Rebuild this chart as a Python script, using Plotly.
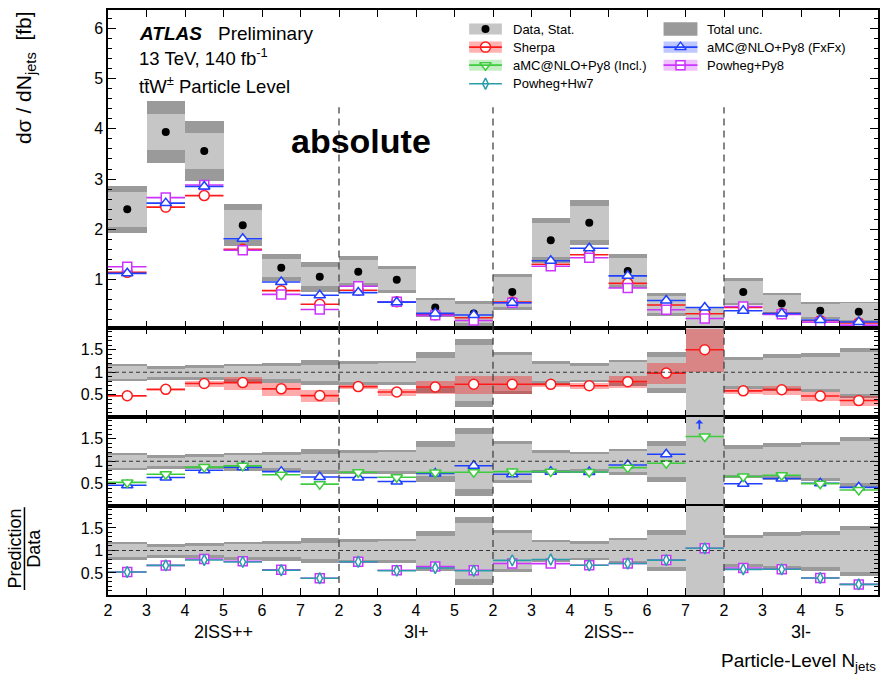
import numpy as np
import plotly.graph_objects as go
from plotly.subplots import make_subplots

# ---------------------------------------------------------------- data
bin_labels = ["2", "3", "4", "5", "6", "7",
              "2", "3", "4", "5",
              "2", "3", "4", "5", "6", "7",
              "2", "3", "4", "5"]
regions = ["2lSS++", "3l+", "2lSS--", "3l-"]
region_nbins = [6, 4, 6, 4]

# measured cross section per bin [fb]
data = [2.40, 3.94, 3.56, 2.08, 1.23, 1.05,
        1.15, 0.99, 0.44, 0.32,
        0.75, 1.78, 2.13, 1.165, 0.50, 0.21,
        0.75, 0.52, 0.375, 0.355]
# relative statistical / total uncertainties of the data
stat_rel = [0.145, 0.09, 0.10, 0.145, 0.145, 0.18,
            0.20, 0.21, 0.33, 0.62,
            0.40, 0.19, 0.16, 0.23, 0.35, 1.05,
            0.29, 0.33, 0.36, 0.47]
tot_rel = [0.195, 0.155, 0.17, 0.20, 0.22, 0.28,
           0.27, 0.27, 0.45, 0.76,
           0.47, 0.25, 0.21, 0.29, 0.46, 1.12,
           0.36, 0.41, 0.44, 0.56]

# predictions [fb]
sherpa = [1.14, 2.44, 2.67, 1.60, 0.775, 0.504,
          0.782, 0.554, 0.295, 0.234,
          0.548, 1.30, 1.49, 0.92, 0.49, 0.315,
          0.439, 0.317, 0.176, 0.131]
sherpa_rel = [0.02, 0.03, 0.09, 0.19, 0.24, 0.29,
              0.06, 0.12, 0.21, 0.27,
              0.27, 0.07, 0.10, 0.17, 0.24, 0.32,
              0.09, 0.16, 0.23, 0.30]
amc_fxfx = [1.12, 2.52, 2.85, 1.81, 0.947, 0.683,
            0.736, 0.545, 0.321, 0.288,
            0.533, 1.37, 1.62, 1.07, 0.578, 0.44,
            0.375, 0.32, 0.191, 0.149]
amc_incl = [1.27, 2.80, 3.10, 1.87, 0.861, 0.515,
            0.868, 0.639, 0.33, 0.242,
            0.578, 1.37, 1.62, 1.00, 0.478, 0.326,
            0.495, 0.359, 0.188, 0.128]
powheg_py8 = [1.25, 2.63, 2.88, 1.58, 0.70, 0.40,
              0.862, 0.554, 0.282, 0.179,
              0.533, 1.26, 1.43, 0.827, 0.393, 0.22,
              0.458, 0.302, 0.146, 0.087]
powheg_hw7 = [1.25, 2.63, 2.81, 1.55, 0.689, 0.40,
              0.862, 0.545, 0.268, 0.176,
              0.585, 1.42, 1.43, 0.827, 0.393, 0.22,
              0.435, 0.302, 0.146, 0.087]

# ---------------------------------------------------------------- style
FONT = "Liberation Sans, Arial, sans-serif"
C_STAT = "#c6c6c6"
C_TOT = "#9a9a9a"
C_SHERPA = "#ff1a1a"
C_FXFX = "#2040ff"
C_INCL = "#3ecb3e"
C_PY8 = "#cc33ff"
C_HW7 = "#2a9caa"
RATIO_MAX = 1.995

data_a = np.array(data)
nb = len(data)
centers = np.arange(nb) + 0.5

fig = make_subplots(rows=4, cols=1, shared_xaxes=True, vertical_spacing=0,
                    row_heights=[317.5, 89.2, 89.0, 89.3])


def add_band(row, vals, rel, color):
    v = np.asarray(vals, dtype=float)
    r = np.asarray(rel, dtype=float)
    fig.add_trace(go.Bar(x=centers, y=2 * v * r, base=v * (1 - r), width=1.0,
                         marker=dict(color=color, line=dict(width=0)),
                         showlegend=False, hoverinfo="skip"), row=row, col=1)


def add_pred(row, vals, color, symbol, size):
    xs, ys = [], []
    for i, v in enumerate(vals):
        xs += [i, i + 1, None]
        ys += [v, v, None]
    fig.add_trace(go.Scatter(x=xs, y=ys, mode="lines",
                             line=dict(color=color, width=1.6),
                             showlegend=False, hoverinfo="skip"), row=row, col=1)
    fig.add_trace(go.Scatter(x=centers, y=vals, mode="markers",
                             marker=dict(symbol=symbol, size=size, color="white",
                                         line=dict(color=color, width=1.5)),
                             showlegend=False), row=row, col=1)


# ---- top panel: absolute cross sections
add_band(1, data, tot_rel, C_TOT)
add_band(1, data, stat_rel, C_STAT)
fig.add_trace(go.Scatter(x=centers, y=data, mode="markers",
                         marker=dict(symbol="circle", size=8, color="black"),
                         showlegend=False), row=1, col=1)
add_pred(1, sherpa, C_SHERPA, "circle", 10)
add_pred(1, powheg_py8, C_PY8, "square", 9)
add_pred(1, amc_fxfx, C_FXFX, "triangle-up", 10)

# ---- ratio panels
ones = np.ones(nb)
ratio_panels = [
    (2, [(sherpa, C_SHERPA, "circle", 10, sherpa_rel)]),
    (3, [(amc_fxfx, C_FXFX, "triangle-up", 10, None),
         (amc_incl, C_INCL, "triangle-down", 10, None)]),
    (4, [(powheg_py8, C_PY8, "square", 9, None),
         (powheg_hw7, C_HW7, "diamond-tall", 8, None)]),
]
for row, preds in ratio_panels:
    add_band(row, ones, tot_rel, C_TOT)
    add_band(row, ones, stat_rel, C_STAT)
    for vals, color, sym, size, rel in preds:
        ratio = np.array(vals) / data_a
        if rel is not None:
            r = np.asarray(rel)
            fig.add_trace(go.Bar(x=centers, y=2 * ratio * r, base=ratio * (1 - r),
                                 width=1.0, marker=dict(color="rgba(255,0,0,0.33)",
                                                        line=dict(width=0)),
                                 showlegend=False, hoverinfo="skip"), row=row, col=1)
    for vals, color, sym, size, rel in preds:
        ratio = np.array(vals) / data_a
        add_pred(row, ratio, color, sym, size)
        # arrows for points above the visible ratio range
        for i, rv in enumerate(ratio):
            if rv > RATIO_MAX:
                xa = centers[i] - 0.14
                fig.add_annotation(x=xa, y=1.93, ax=xa, ay=1.68,
                                   xref=f"x{row}", yref=f"y{row}",
                                   axref=f"x{row}", ayref=f"y{row}",
                                   text="", showarrow=True, arrowhead=1,
                                   arrowsize=0.8, arrowwidth=1.6, arrowcolor=color)

# ---- dashed lines: unity in ratio panels, region separators
for row in (2, 3, 4):
    fig.add_shape(type="line", x0=0, x1=nb, y0=1, y1=1, xref=f"x{row}", yref=f"y{row}",
                  line=dict(color="#333333", width=1.1, dash="4px,3px"), layer="above")
bounds = np.cumsum(region_nbins)[:-1]
for b in bounds:
    fig.add_shape(type="line", x0=b, x1=b, y0=0, y1=4.43, xref="x", yref="y",
                  line=dict(color="#444444", width=1.3, dash="7px,5px"), layer="above")
    for row in (2, 3, 4):
        fig.add_shape(type="line", x0=b, x1=b, y0=0, y1=1, xref=f"x{row}",
                      yref=f"y{row} domain",
                      line=dict(color="#444444", width=1.3, dash="7px,5px"), layer="above")

# ---- legend (drawn inside the top panel)
leg_sw = [(9.38, 10.23), (14.43, 15.31)]
leg_tx = [10.46, 15.51]
leg_y = [5.99, 5.63, 5.27, 4.90]
legend_items = [
    ("Data, Stat.", 0, 0, C_STAT, None, "circle", 8, 0.11),
    ("Total unc.", 1, 0, C_TOT, None, None, 0, 0.135),
    ("Sherpa", 0, 1, "rgba(255,0,0,0.30)", C_SHERPA, "circle", 10, 0.11),
    ("aMC@NLO+Py8 (FxFx)", 1, 1, "rgba(40,70,255,0.30)", C_FXFX, "triangle-up", 10, 0.11),
    ("aMC@NLO+Py8 (Incl.)", 0, 2, "rgba(60,200,60,0.30)", C_INCL, "triangle-down", 10, 0.11),
    ("Powheg+Py8", 1, 2, "rgba(204,51,255,0.30)", C_PY8, "square", 9, 0.11),
    ("Powheg+Hw7", 0, 3, None, C_HW7, "diamond-tall", 8, 0.11),
]
for label, col, r, band, lcol, sym, size, hh in legend_items:
    x0, x1 = leg_sw[col]
    yc = leg_y[r]
    if band is not None:
        fig.add_shape(type="rect", x0=x0, x1=x1, y0=yc - hh, y1=yc + hh, xref="x", yref="y",
                      fillcolor=band, line=dict(width=0), layer="below")
    if lcol is not None:
        fig.add_shape(type="line", x0=x0, x1=x1, y0=yc, y1=yc, xref="x", yref="y",
                      line=dict(color=lcol, width=1.6))
    if sym is not None:
        if lcol is None:
            mk = dict(symbol=sym, size=size, color="black")
        else:
            mk = dict(symbol=sym, size=size, color="white", line=dict(color=lcol, width=1.5))
        fig.add_trace(go.Scatter(x=[(x0 + x1) / 2], y=[yc], mode="markers", marker=mk,
                                 showlegend=False, hoverinfo="skip"), row=1, col=1)
    fig.add_annotation(x=leg_tx[col], y=yc, xref="x", yref="y", text=label,
                       showarrow=False, xanchor="left", yanchor="middle",
                       font=dict(family=FONT, size=13, color="black"))

# ---- axes
tick_text = bin_labels + [""]
fig.update_xaxes(range=[0, nb], tickmode="array", tickvals=list(range(nb + 1)),
                 ticktext=tick_text, ticks="inside", ticklen=7, tickwidth=1.3,
                 tickcolor="black", mirror="allticks", showline=True, linecolor="black",
                 linewidth=1.5, showgrid=False, zeroline=False,
                 tickfont=dict(family=FONT, size=16, color="black"))
fig.update_xaxes(showticklabels=True, row=4, col=1)

fig.update_yaxes(range=[0.04, 6.37], tickmode="linear", tick0=0, dtick=1, row=1, col=1,
                 minor=dict(ticks="inside", ticklen=4, dtick=0.2, tick0=0,
                            tickcolor="black", showgrid=False))
for row in (2, 3, 4):
    fig.update_yaxes(range=[0.01, RATIO_MAX], tickmode="linear", tick0=0, dtick=0.5,
                     row=row, col=1,
                     minor=dict(ticks="inside", ticklen=4, dtick=0.1, tick0=0,
                                tickcolor="black", showgrid=False))
fig.update_yaxes(ticks="inside", ticklen=8, tickwidth=1.3, tickcolor="black",
                 mirror="allticks", showline=True, linecolor="black", linewidth=1.5,
                 showgrid=False, zeroline=False,
                 tickfont=dict(family=FONT, size=16, color="black"))

# ---- text
def ann(text, x, y, size, xanchor="left", yanchor="middle", angle=0, xref="paper"):
    fig.add_annotation(text=text, x=x, y=y, xref=xref, yref="paper", showarrow=False,
                       xanchor=xanchor, yanchor=yanchor, textangle=angle,
                       font=dict(family=FONT, size=size, color="black"))

ann("<b><i>ATLAS</i></b>", 0.0376, 0.960, 19)
ann("Preliminary", 0.140, 0.960, 19)
ann("13 TeV, 140 fb<sup>-1</sup>", 0.0376, 0.919, 18.5)
ann("tt\u0304W<sup>\u00b1</sup> Particle Level", 0.0376, 0.872, 18.5)
ann("<b>absolute</b>", 0.328, 0.776, 34, xanchor="center")

ann("d\u03c3 / dN<sub>jets</sub>  [fb]", -0.1075, 0.884, 21, xanchor="center", angle=-90)
ann("Prediction", -0.1205, 0.080, 18, xanchor="center", angle=-90)
ann("Data", -0.0955, 0.080, 18, xanchor="center", angle=-90)
fig.add_shape(type="line", xref="paper", yref="paper", x0=-0.1085, x1=-0.1085,
              y0=0.0085, y1=0.150, line=dict(color="black", width=1.5))

start = 0
for name, nbin in zip(regions, region_nbins):
    ann(name, start + nbin / 2, -0.063, 18, xanchor="center", xref="x4")
    start += nbin
ann("Particle-Level N<sub>jets</sub>", 1.0, -0.115, 19, xanchor="right")

fig.update_layout(width=881, height=678, margin=dict(l=108, r=1, t=10, b=83),
                  paper_bgcolor="white", plot_bgcolor="white",
                  barmode="overlay", bargap=0, showlegend=False,
                  font=dict(family=FONT, color="black"))

fig.write_html("out.html")
